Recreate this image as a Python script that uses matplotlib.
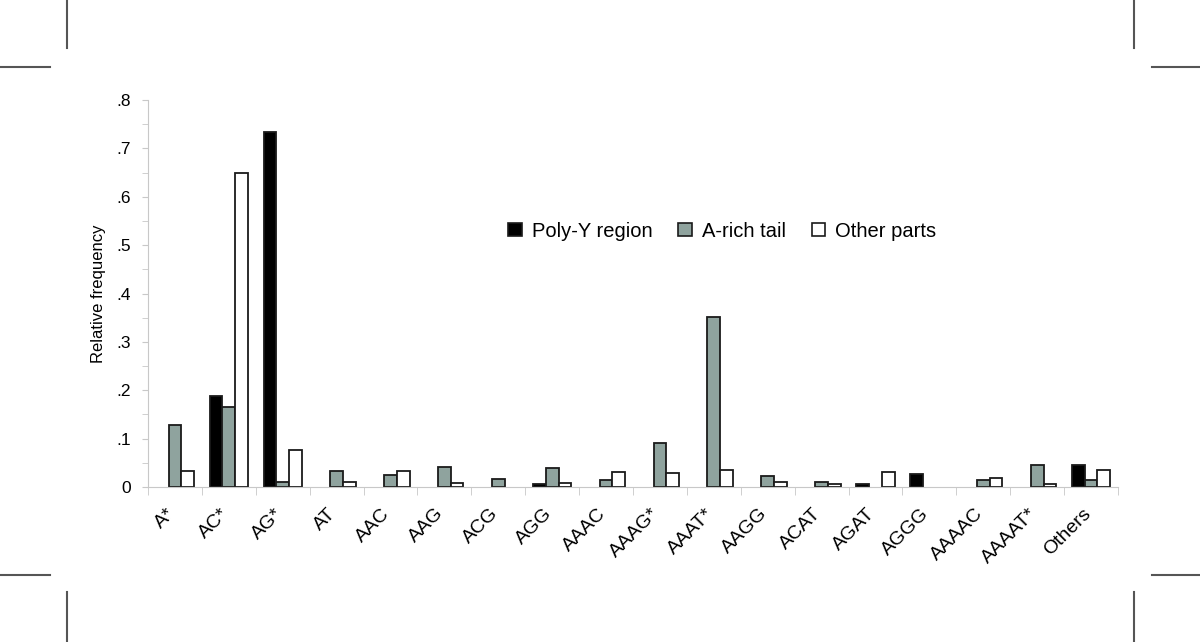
import matplotlib.pyplot as plt
import matplotlib.transforms as mtransforms
from matplotlib.lines import Line2D
from matplotlib.patches import Patch
import numpy as np

plt.rcParams['font.family'] = ['Liberation Sans', 'DejaVu Sans']

categories = ['A*', 'AC*', 'AG*', 'AT', 'AAC', 'AAG', 'ACG', 'AGG', 'AAAC', 'AAAG*',
              'AAAT*', 'AAGG', 'ACAT', 'AGAT', 'AGGG', 'AAAAC', 'AAAAT*', 'Others']
poly_y = [0, 0.189, 0.733, 0, 0, 0, 0, 0.006, 0, 0,
          0, 0, 0, 0.006, 0.026, 0, 0, 0.045]
a_rich = [0.128, 0.166, 0.010, 0.033, 0.025, 0.041, 0.016, 0.039, 0.014, 0.091,
          0.351, 0.023, 0.010, 0, 0, 0.014, 0.045, 0.015]
other = [0.033, 0.649, 0.076, 0.011, 0.033, 0.008, 0, 0.009, 0.031, 0.028,
         0.036, 0.010, 0.007, 0.031, 0, 0.018, 0.007, 0.036]
series_names = ['Poly-Y region', 'A-rich tail', 'Other parts']
series_colors = ['#000000', '#8FA39E', '#FFFFFF']
yticks = [0, 0.1, 0.2, 0.3, 0.4, 0.5, 0.6, 0.7, 0.8]
ytick_labels = ['0', '.1', '.2', '.3', '.4', '.5', '.6', '.7', '.8']

fig = plt.figure(figsize=(12, 6.42), dpi=100)
ax = fig.add_axes([0.1233, 0.2414, 0.8084, 0.6028])

x = np.arange(len(categories))
w = 0.236
for k, (vals, c) in enumerate(zip([poly_y, a_rich, other], series_colors)):
    vals = np.array(vals)
    keep = vals > 0  # empty cells draw nothing
    ax.bar(x[keep] + (k - 1) * w, vals[keep], width=w, color=c, edgecolor='#1a1a1a', linewidth=1.3)

ax.set_xlim(-0.5, len(categories) - 0.5)
ax.set_ylim(0, 0.8)

for s in ['top', 'right']:
    ax.spines[s].set_visible(False)
ax.spines['left'].set_color('#c8c8c8')
ax.spines['bottom'].set_color('#c8c8c8')

ax.set_yticks(yticks)
ax.set_yticklabels(ytick_labels)
ax.set_yticks(np.arange(0.05, 0.8, 0.1), minor=True)
ax.tick_params(axis='y', which='both', direction='out', color='#c8c8c8', length=4, labelsize=12.5, pad=8)

# category separators on x axis
ax.set_xticks(np.arange(-0.5, len(categories)), minor=True)
ax.set_xticks(x)
ax.set_xticklabels(categories, rotation=45, ha='right', rotation_mode='anchor')
ax.tick_params(axis='x', which='minor', direction='out', color='#c8c8c8', length=6)
ax.tick_params(axis='x', which='major', length=0, labelsize=14, pad=13)
offset = mtransforms.ScaledTranslation(-9 / 100, 0, fig.dpi_scale_trans)
for lbl in ax.get_xticklabels():
    lbl.set_transform(lbl.get_transform() + offset)

ax.set_ylabel('Relative frequency', fontsize=12, labelpad=8)

handles = [Patch(facecolor=c, edgecolor='#1a1a1a', linewidth=1.2) for c in series_colors]
ax.legend(handles, series_names, loc='center', bbox_to_anchor=(0.592, 0.661), ncol=3, frameon=False,
          fontsize=14.5, handlelength=0.65, handleheight=0.65, handletextpad=0.5, columnspacing=1.3)

# crop marks
mark = dict(color='#555555', linewidth=1.5)
W, H = 1200, 642
for (x0, y0, x1, y1) in [(67, 0, 67, 48), (1134, 0, 1134, 48), (0, 67, 50, 67), (1152, 67, 1200, 67),
                         (0, 575, 50, 575), (1152, 575, 1200, 575), (67, 592, 67, 642), (1134, 592, 1134, 642)]:
    fig.add_artist(Line2D([x0 / W, x1 / W], [1 - y0 / H, 1 - y1 / H], **mark))

fig.savefig('out.png', dpi=100)
